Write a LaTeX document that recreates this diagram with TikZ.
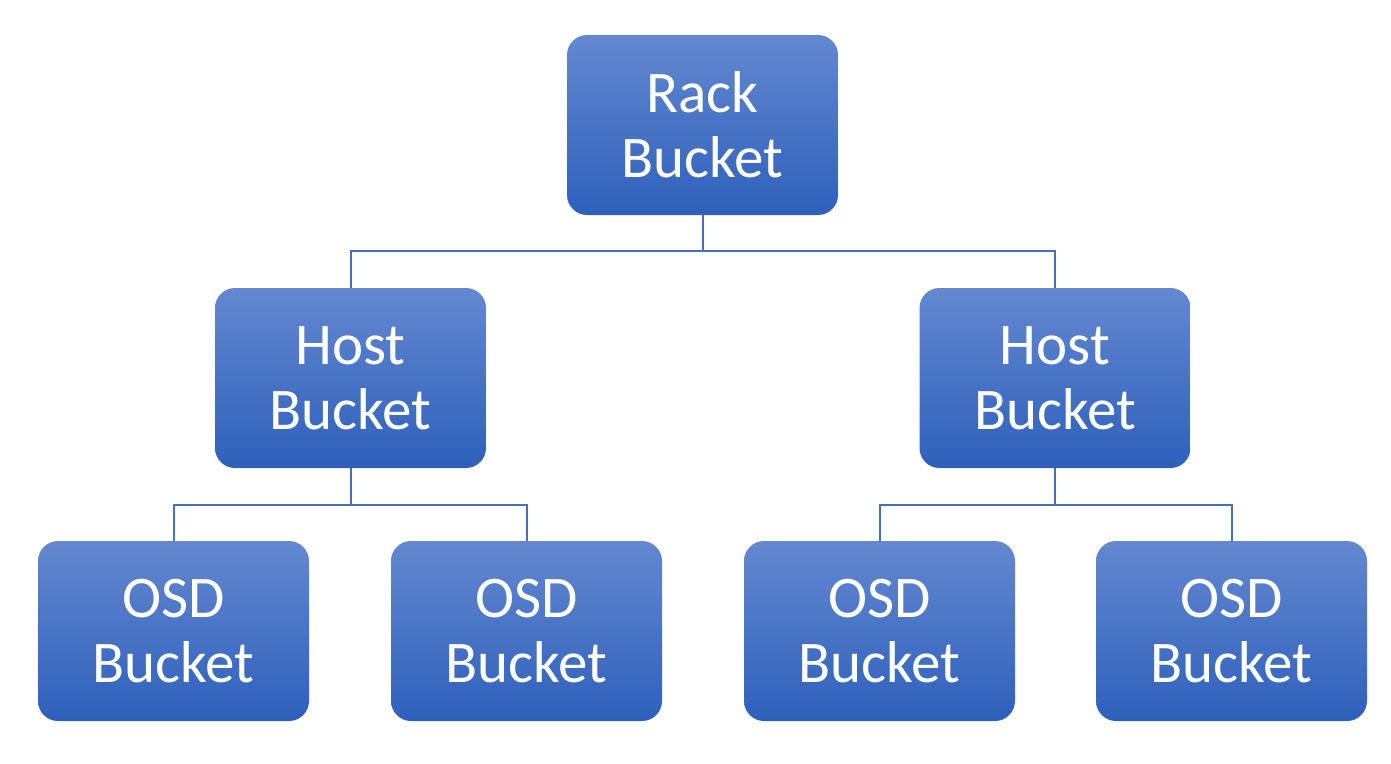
\documentclass[tikz,border=0pt]{standalone}
\usepackage{fontspec}
\setmainfont{Carlito}
\definecolor{boxtop}{HTML}{6388D0}
\definecolor{boxbot}{HTML}{2E60BB}
\definecolor{linkc}{HTML}{4470C0}
\tikzset{
  bucket/.style={rounded corners=20pt, top color=boxtop, bottom color=boxbot, draw=none,
    minimum width=271pt, minimum height=180pt, inner sep=0pt, text=white, align=center,
    font=\fontsize{59}{65}\selectfont},
  link/.style={draw=linkc, line width=2pt}
}
\begin{document}
\begin{tikzpicture}[x=1pt,y=-1pt]
\useasboundingbox (0,0) rectangle (1391,763);
\node[bucket] (rack) at (702.5,125) {Rack\\Bucket};
\node[bucket] (hl) at (350.5,378) {Host\\Bucket};
\node[bucket] (hr) at (1055,378) {Host\\Bucket};
\node[bucket] (o1) at (173.5,631) {OSD\\Bucket};
\node[bucket] (o2) at (526.5,631) {OSD\\Bucket};
\node[bucket] (o3) at (879.5,631) {OSD\\Bucket};
\node[bucket] (o4) at (1231.5,631) {OSD\\Bucket};
\coordinate (j0) at (702.5,251);
\coordinate (j1) at (350.5,505);
\coordinate (j2) at (1055,505);
\draw[link] (rack.south) -- (j0) -| (hl.north);
\draw[link] (j0) -| (hr.north);
\draw[link] (hl.south) -- (j1) -| (o1.north);
\draw[link] (j1) -| (o2.north);
\draw[link] (hr.south) -- (j2) -| (o3.north);
\draw[link] (j2) -| (o4.north);
\end{tikzpicture}
\end{document}
